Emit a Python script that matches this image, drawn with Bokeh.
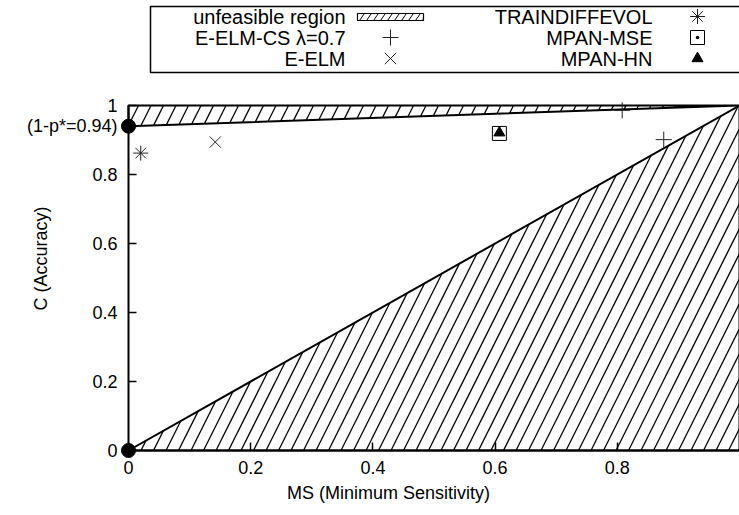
import math
from bokeh.plotting import figure
from bokeh.models import Range1d, LinearAxis, FixedTicker, Label
from bokeh.embed import file_html
from bokeh.resources import INLINE

# ---------------- data ----------------
one_minus_p_star = 0.94

traindiffevol_ms = [0.020]
traindiffevol_c = [0.862]

eelm_cs_ms = [0.808, 0.876]
eelm_cs_c = [0.986, 0.901]

eelm_ms = [0.142]
eelm_c = [0.894]

mpan_mse_ms = [0.607]
mpan_mse_c = [0.919]

mpan_hn_ms = [0.607]
mpan_hn_c = [0.921]

special_ms = [0.0, 0.0]
special_c = [one_minus_p_star, 0.0]

unfeasible_upper_ms = [0.0, 1.0, 0.0]
unfeasible_upper_c = [one_minus_p_star, 1.0, 1.0]
unfeasible_lower_ms = [0.0, 1.0, 1.0]
unfeasible_lower_c = [0.0, 1.0, 0.0]

x_ticks = [0, 0.2, 0.4, 0.6, 0.8]
x_tick_labels = ["0", "0.2", "0.4", "0.6", "0.8"]
y_ticks = [0, 0.2, 0.4, 0.6, 0.8, 0.94, 1]
y_tick_labels = ["0", "0.2", "0.4", "0.6", "0.8", "(1-p*=0.94)", "1"]

x_label = "MS (Minimum Sensitivity)"
y_label = "C (Accuracy)"

legend_left = ["unfeasible region", "E-ELM-CS \u03bb=0.7", "E-ELM"]
legend_right = ["TRAINDIFFEVOL", "MPAN-MSE", "MPAN-HN"]

# ---------------- layout helpers (pixel -> data) ----------------
W, H = 739, 515
X0PX, X1PX = 128.0, 739.0
Y0PX, Y1PX = 450.0, 105.0
SX = X1PX - X0PX
SY = Y0PX - Y1PX


def dx(px):
    return (px - X0PX) / SX


def dy(py):
    return (Y0PX - py) / SY


FONT = "Liberation Sans"
FS = "18px"
LFS = "20px"

p = figure(width=W, height=H,
           x_range=Range1d(dx(0), dx(W)), y_range=Range1d(dy(H), dy(0)),
           output_backend="svg", toolbar_location=None,
           x_axis_location=None, y_axis_location=None, min_border=0)
p.outline_line_color = None
for g in p.grid:
    g.visible = False
p.background_fill_color = "white"
p.border_fill_color = "white"


# ---------------- hatch helper ----------------
def hatch_segments(poly_x, poly_y, spacing_px, slope_px=0.5):
    b = slope_px * SY / SX  # data dx per data dy
    verts = list(zip(poly_x, poly_y))
    n = len(verts)
    area = sum(verts[i][0] * verts[(i + 1) % n][1] - verts[(i + 1) % n][0] * verts[i][1] for i in range(n))
    if area < 0:
        verts = verts[::-1]
    step = spacing_px / SX
    avals = [vx - b * vy for vx, vy in verts]
    k0 = math.floor(min(avals) / step)
    k1 = math.ceil(max(avals) / step)
    xs, ys = [], []
    for k in range(k0, k1 + 1):
        a = k * step
        lo, hi = -1e9, 1e9
        ok = True
        for i in range(n):
            x0, y0 = verts[i]
            x1, y1 = verts[(i + 1) % n]
            ex, ey = x1 - x0, y1 - y0
            B = ex - ey * b
            A = -ex * y0 - ey * (a - x0)
            if abs(B) < 1e-12:
                if A < 0:
                    ok = False
            elif B > 0:
                lo = max(lo, -A / B)
            else:
                hi = min(hi, -A / B)
        if ok and hi > lo + 1e-9:
            xs.append([a + b * lo, a + b * hi])
            ys.append([lo, hi])
    return xs, ys


# ---------------- unfeasible regions ----------------
for pxs, pys in [(unfeasible_upper_ms, unfeasible_upper_c), (unfeasible_lower_ms, unfeasible_lower_c)]:
    hx, hy = hatch_segments(pxs, pys, 12.5)
    p.multi_line(hx, hy, line_color="black", line_width=1.3)
    p.patch(pxs, pys, fill_color=None, line_color="black", line_width=2)

# ---------------- axes ----------------
common = dict(major_tick_in=8, major_tick_out=0, minor_tick_in=0, minor_tick_out=0,
              axis_line_width=2, major_tick_line_width=1.5,
              major_label_text_font=FONT, major_label_text_font_size=FS,
              major_label_text_color="black", bounds=(0, 1), fixed_location=0)
yaxis = LinearAxis(ticker=FixedTicker(ticks=y_ticks),
                   major_label_overrides={t: l for t, l in zip(y_ticks, y_tick_labels)},
                   major_label_standoff=11, **common)
xaxis = LinearAxis(ticker=FixedTicker(ticks=x_ticks),
                   major_label_overrides={t: l for t, l in zip(x_ticks, x_tick_labels)},
                   major_label_standoff=10, **common)
p.add_layout(yaxis, "left")
p.add_layout(xaxis, "below")

p.add_layout(Label(x=dx(388), y=dy(492), text=x_label, text_font=FONT, text_font_size=FS,
                   text_color="black", text_align="center", text_baseline="middle"))
p.add_layout(Label(x=dx(40), y=dy(258), text=y_label, text_font=FONT, text_font_size=FS,
                   text_color="black", text_align="center", text_baseline="middle",
                   angle=math.pi / 2))

# ---------------- data points ----------------
p.scatter(special_ms, special_c, marker="circle", size=14, fill_color="black", line_color="black")
p.scatter(traindiffevol_ms, traindiffevol_c, marker="asterisk", size=15, line_color="#222222", line_width=1)
p.scatter(eelm_cs_ms, eelm_cs_c, marker="cross", size=16, line_color="#222222", line_width=1)
p.scatter(eelm_ms, eelm_c, marker="x", size=16, line_color="#222222", line_width=1)
p.scatter(mpan_mse_ms, mpan_mse_c, marker="square_dot", size=14, fill_color=None, line_color="black", line_width=1)
p.scatter(mpan_hn_ms, mpan_hn_c, marker="triangle", size=11, fill_color="black", line_color="black")

# ---------------- legend (key box) ----------------
p.quad(left=dx(150), right=dx(760), top=dy(6), bottom=dy(72), fill_color=None,
       line_color="black", line_width=1.5)
row_py = [16, 37, 58]
for txt, ry in zip(legend_left, row_py):
    p.add_layout(Label(x=dx(345), y=dy(ry), text=txt, text_font=FONT, text_font_size=LFS,
                       text_color="black", text_align="right", text_baseline="middle"))
for txt, ry in zip(legend_right, row_py):
    p.add_layout(Label(x=dx(652), y=dy(ry), text=txt, text_font=FONT, text_font_size=LFS,
                       text_color="black", text_align="right", text_baseline="middle"))

sample_x = [dx(357), dx(423), dx(423), dx(357)]
sample_y = [dy(20), dy(20), dy(13), dy(13)]
shx, shy = hatch_segments(sample_x, sample_y, 7, slope_px=0.7)
p.multi_line(shx, shy, line_color="black", line_width=1)
p.patch(sample_x, sample_y, fill_color=None, line_color="black", line_width=1.2)

p.scatter([dx(390)], [dy(row_py[1])], marker="cross", size=16, line_color="#222222", line_width=1)
p.scatter([dx(390)], [dy(row_py[2])], marker="x", size=16, line_color="#222222", line_width=1)
p.scatter([dx(697)], [dy(row_py[0])], marker="asterisk", size=15, line_color="#222222", line_width=1)
p.scatter([dx(697)], [dy(row_py[1])], marker="square_dot", size=14, fill_color=None, line_color="black", line_width=1)
p.scatter([dx(697)], [dy(row_py[2])], marker="triangle", size=11, fill_color="black", line_color="black")

open("out.html", "w").write(file_html(p, INLINE))
